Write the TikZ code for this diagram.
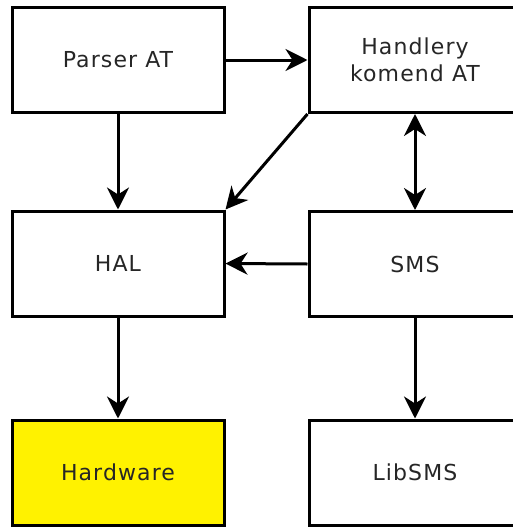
\documentclass[tikz,border=0pt]{standalone}
\usepackage{fontspec}
\setmainfont{DejaVu Sans}[LetterSpace=5]
\usetikzlibrary{arrows.meta}
\definecolor{txtgray}{HTML}{262626}
\begin{document}
\begin{tikzpicture}[x=1pt,y=-1pt,
  blk/.style={draw=black, line width=3pt, fill=white, minimum width=212pt, minimum height=105pt, inner sep=0pt, align=center, font=\fontsize{22}{27}\selectfont, text=txtgray},
  lnk/.style={line width=3pt, -{Stealth[length=22pt, width=22pt, inset=7pt]}},
  lnk2/.style={line width=3pt, {Stealth[length=22pt, width=22pt, inset=7pt]}-{Stealth[length=22pt, width=22pt, inset=7pt]}}]
  \useasboundingbox (0,0) rectangle (512,528);
  % left column
  \node[blk] (parser) at (118,60) {Parser AT};
  \node[blk] (hal) at (118,263.5) {HAL};
  \node[blk, fill=yellow] (hw) at (118,472.5) {Hardware};
  % right column (runs past the right edge)
  \node[blk] (handler) at (415,60) {Handlery\\komend AT};
  \node[blk] (sms) at (415,264) {SMS};
  \node[blk] (lib) at (415,472.5) {LibSMS};
  % connectors
  \draw[lnk] (parser.east) -- (handler.west);
  \draw[lnk] (parser.south) -- (hal.north);
  \draw[lnk] (handler.south west) -- (hal.north east);
  \draw[lnk2] (handler.south) -- (sms.north);
  \draw[lnk] (sms.west) -- (hal.east);
  \draw[lnk] (hal.south) -- (hw.north);
  \draw[lnk] (sms.south) -- (lib.north);
\end{tikzpicture}
\end{document}
